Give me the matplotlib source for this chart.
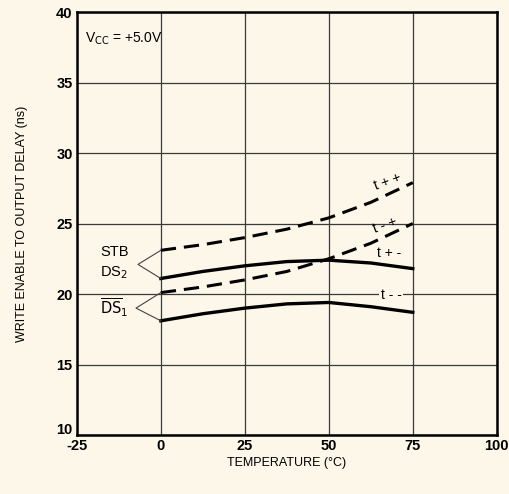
import numpy as np
import matplotlib.pyplot as plt
import matplotlib.transforms as mtransforms

plt.rcParams['font.family'] = ['Liberation Sans', 'DejaVu Sans']
plt.rcParams['axes.unicode_minus'] = False

# temperatura (°C) y retardo (ns)
temp = [0, 12.5, 25, 37.5, 50, 62.5, 75]
t_pp = [23.1, 23.5, 24.0, 24.6, 25.4, 26.5, 27.9]
t_mp = [20.1, 20.5, 21.0, 21.6, 22.5, 23.6, 25.0]
t_pm = [21.1, 21.6, 22.0, 22.3, 22.4, 22.2, 21.8]
t_mm = [18.1, 18.6, 19.0, 19.3, 19.4, 19.1, 18.7]

xticks = [-25, 0, 25, 50, 75, 100]
yticks = [10, 15, 20, 25, 30, 35, 40]

bg = '#fcf7e9'
fig = plt.figure(figsize=(5.09, 4.94), dpi=100, facecolor=bg)
ax = fig.add_axes([0.151, 0.1194, 0.825, 0.8563], facecolor=bg)

ax.set_xlim(-25, 100)
ax.set_ylim(10, 40)
ax.set_xticks(xticks)
ax.set_yticks(yticks)
ax.grid(True, color='#3a3a3a', linewidth=0.9)
ax.tick_params(length=0, labelsize=10.5, pad=3)
for lbl in ax.get_xticklabels() + ax.get_yticklabels():
    lbl.set_fontweight('bold')
for s in ax.spines.values():
    s.set_linewidth(1.8)

# el "10" va un poco arriba del "-25"
lbl10 = ax.get_yticklabels()[0]
lbl10.set_transform(lbl10.get_transform() + mtransforms.ScaledTranslation(0, 5 / 72, fig.dpi_scale_trans))

dash = (0, (5, 2.6))
ax.plot(temp, t_pp, color='black', lw=2.2, linestyle=dash)
ax.plot(temp, t_mp, color='black', lw=2.2, linestyle=dash)
ax.plot(temp, t_pm, color='black', lw=2.4)
ax.plot(temp, t_mm, color='black', lw=2.4)

# corchetes de las etiquetas
ax.plot([0, -6.8, 0], [t_pp[0], 22.1, t_pm[0]], color='#444444', lw=0.8)
ax.plot([0, -7.4, 0], [t_mp[0], 19.0, t_mm[0]], color='#444444', lw=0.8)

ax.text(-18, 23.0, 'STB', fontsize=10.5, va='center', ha='left')
ax.text(-18, 21.5, 'DS$_2$', fontsize=10.5, va='center', ha='left')
ax.text(-18, 19.0, r'$\overline{\mathrm{DS}}_1$', fontsize=10.5, va='center', ha='left')

ax.text(-22.5, 38.1, r'V$_{\mathrm{CC}}$ = +5.0V', fontsize=10, va='center', ha='left')

ax.text(67.5, 28.0, 't + +', fontsize=10, ha='center', va='center', rotation=20)
ax.text(66.6, 24.9, 't - +', fontsize=10, ha='center', va='center', rotation=20)
ax.text(68, 22.9, 't + -', fontsize=10, ha='center', va='center')
ax.text(68.6, 19.95, 't - -', fontsize=10, ha='center', va='center',
        bbox=dict(facecolor=bg, edgecolor='none', pad=1))

ax.set_xlabel('TEMPERATURE (°C)', fontsize=9, labelpad=3)
ax.set_ylabel('WRITE ENABLE TO OUTPUT DELAY (ns)', fontsize=9, labelpad=20)

fig.savefig('out.png', dpi=100, facecolor=bg)
